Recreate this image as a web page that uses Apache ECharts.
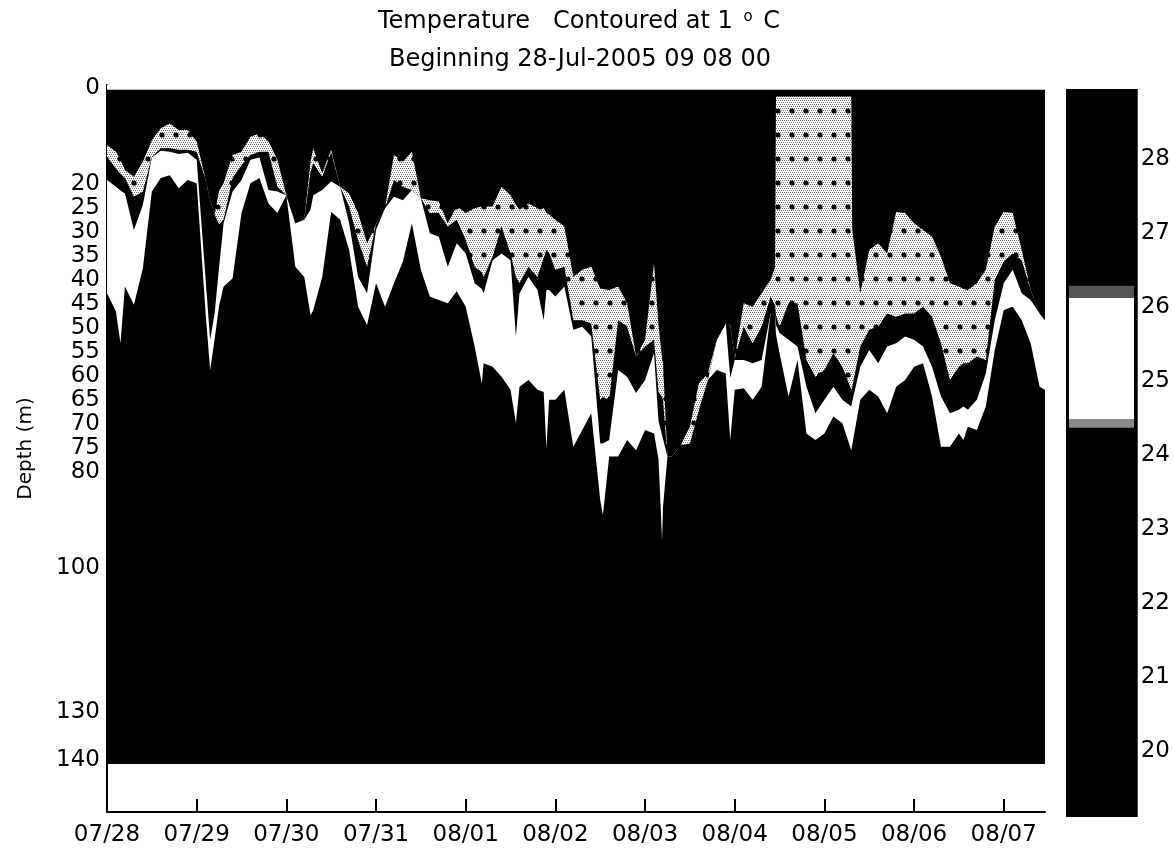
<!DOCTYPE html>
<html>
<head>
<meta charset="utf-8">
<style>
  html,body{margin:0;padding:0;background:#fff;}
  #main{width:1173px;height:848px;}
</style>
<script src="https://cdn.jsdelivr.net/npm/echarts@6/dist/echarts.min.js"></script>
</head>
<body>
<div id="main"></div>
<script>
// days since 07/28 00:00
const times = [0,0.1,0.15,0.2,0.3,0.4,0.5,0.6,0.7,0.8,0.9,1,1.1,1.15,1.2,1.25,1.3,1.4,1.5,1.6,1.7,1.8,1.9,2,2.1,2.2,2.27,2.3,2.4,2.5,2.6,2.7,2.8,2.9,3,3.1,3.2,3.3,3.4,3.5,3.6,3.7,3.8,3.9,4,4.1,4.18,4.2,4.3,4.4,4.5,4.56,4.6,4.7,4.8,4.87,4.9,4.93,5,5.1,5.2,5.3,5.4,5.5,5.53,5.6,5.7,5.8,5.9,6,6.1,6.15,6.19,6.2,6.25,6.3,6.4,6.5,6.6,6.7,6.8,6.9,6.95,7,7.1,7.2,7.3,7.4,7.45,7.46,7.5,7.6,7.7,7.8,7.9,8,8.1,8.2,8.3,8.31,8.4,8.5,8.6,8.7,8.8,8.9,9,9.1,9.2,9.3,9.4,9.5,9.55,9.6,9.7,9.8,9.9,10,10.1,10.2,10.3,10.4,10.46]
// depth (m) of the contour edges
const grayTop = [12.5,13.9,15.5,17.7,19.1,16,11.5,9,8,9.4,9.4,11.8,19.8,24,27,22,20.5,14.6,13.9,10.8,10.1,11.8,15.6,23,28.8,28,16,13.2,18.4,13.5,21.2,22.6,26.7,33,29,25.7,14.6,16,13.9,23.6,24,24.3,28.8,25.3,26.7,25.7,25.3,25.3,25.3,21.2,23,25,26,24.7,25.7,25.7,26.7,27,28.1,29.5,40,38.5,37.9,42.4,42.5,42.7,42,45.5,56.6,53.1,37.2,50,57,58,77.4,77.4,75,71.2,62.2,60.1,53.1,49.7,50,57,45.5,46.2,43.4,40.6,38,2.4,2.4,2.4,2.4,2.4,2.4,2.4,2.4,2.4,2.4,30,43.4,34.4,33,35.1,26.4,26.7,28.8,30.2,31.6,35.8,41.3,42,42.5,42.7,41.3,38.5,29.5,26.4,26.7,34.4,42.7,47.6,49]
const grayBottom = [15,17.4,18.5,19.4,23.3,22.2,15,13.2,13.2,13.5,13.5,13.9,19.8,24,27,29,28.1,19.4,16.7,14.6,13.9,13.9,21.2,23,28.8,28,18,16.3,19.1,14,21.2,25.3,32.3,37.9,29,25.7,19.8,21.2,21.9,23.6,26.7,26.7,29.5,28.1,32.3,37.9,39,40,35.8,29.5,35.1,40,41.3,37.9,40,36,34.4,35,38.5,37.9,49,49,49.7,65.6,65,65.6,49,50.4,56.6,54.5,53.1,64,65,65.6,77.4,77.4,75,74.7,67.7,61.5,53.1,49.7,50,57,50.4,53.8,50.4,44.1,46,48,50.4,45.5,45.5,57.3,60.8,59.4,55.9,58.7,63.5,63,54.5,51,50.4,47.6,48.3,47.6,47.6,46.2,48.3,53.8,61.5,58.7,58,58,56.6,57.3,40.6,36.8,35.1,36.5,42.7,47.6,49]
const whiteTop = [19.8,21.2,22,22.6,30.2,25,15.1,13.7,13.9,14.4,14.1,15.6,40.6,53.1,47.6,38,28.8,22.2,19.8,15.6,15.1,21.9,22.2,23,28.8,28.1,26,23,21.9,20.1,21.2,28.8,40,43.4,30.2,25.7,23.3,24,21.9,23.6,30.9,31.6,37.9,33,35.1,41.3,42.5,43.4,36.5,35.1,36.5,52.4,43.4,40,42.7,49,42.7,42.7,44.1,42,51,50.4,52.4,74.7,74.7,74,59.4,60.8,64.2,61.5,55.9,70,73,73.3,77.4,77.4,75,74.7,67.7,61.5,53.1,49.7,61,57.3,57.3,58,57.3,47.6,48,50,51.7,53.1,54.5,62.9,68.4,65.6,62.9,65.6,67,66,58.7,55.2,58,54.5,53.8,52.4,53.1,54.5,58.7,64.9,68.4,67.7,67,67.7,65.6,60.1,49,41.3,38.5,43.4,44.8,47.6,49]
const whiteBottom = [43.4,47.2,53.8,42,45.8,38.2,22.2,19.4,18.8,21.5,19.8,20.5,47.6,59.4,53,46,42,40.3,26.7,20.5,19.4,24.7,26.7,23,37.9,40,48,46.9,40,26.4,28.1,34.4,46.2,50,41.3,46.2,41.3,36.8,28.8,38.5,44.1,44.8,45.5,43,46.2,54.5,62.2,58,58.7,60.8,63.5,70.5,62.9,61.5,63.5,64,75.7,65.6,65.6,63.5,75.4,71.9,68.4,86.5,89.6,77.4,77.4,74,76.1,71.9,72.6,78,94.8,88,77.4,77.4,75,74.7,67.7,61.5,59.4,60.1,74,63.5,63.2,65.6,62.9,47.6,48,52,55.9,64.9,57.3,72.6,74,72.6,69.1,70.5,76.1,75,65.6,63.5,64.9,68.4,62.9,61.5,58.7,58,64.9,75.4,75.4,72.6,74,71.2,71.9,67,55.2,46.9,46.2,49,53.8,62.9,63.5]
const dataFloor = 141.5   // bottom of the contoured part
const dataCeil = 1        // top of the contoured part

const depthTicks = [0,20,25,30,35,40,45,50,55,60,65,70,75,80,100,130,140]
const dateTicks = [0,1,2,3,4,5,6,7,8,9,10]
const dateLabels = ['07/28','07/29','07/30','07/31','08/01','08/02','08/03','08/04','08/05','08/06','08/07']
const tempTicks = [20,21,22,23,24,25,26,27,28]
// colour bar edges in deg C
const barMin = 19.08
const barMax = 28.92
const barGrayLow = 24.34
const barWhiteLow = 24.46
const barWhiteHigh = 26.1
const barGrayHigh = 26.26

const FONT = 'DejaVu Sans'

// stipple used for the 26-27 band
function stipple(){
  const c = document.createElement('canvas')
  c.width = 14; c.height = 24
  const g = c.getContext('2d')
  g.fillStyle = '#fff'
  g.fillRect(0,0,14,24)
  g.fillStyle = '#777'
  for(let y=0;y<24;y+=2){
    for(let x=(y%4)/2;x<14;x+=2){
      g.fillRect(x,y,1,1)
    }
  }
  g.fillStyle = '#000'
  g.beginPath()
  g.arc(8,15,2.6,0,Math.PI*2)
  g.fill()
  return c
}
const stipplePattern = {image:stipple(),repeat:'repeat'}

// one filled layer: everything from the top of the axis down to the edge
function layer(name,depths,color){
  return {
    name:name,
    type:'line',
    data:times.map((t,i)=>[t,depths[i]]),
    showSymbol:false,
    silent:true,
    lineStyle:{width:0},
    areaStyle:{color:color,origin:'start',opacity:1}
  }
}
function barPart(name,size,color,grid){
  return {
    name:name,
    type:'bar',
    xAxisIndex:grid,
    yAxisIndex:grid,
    stack:'bar'+grid,
    barWidth:'100%',
    silent:true,
    data:[size],
    itemStyle:{color:color}
  }
}

const chart = echarts.init(document.getElementById('main'))
chart.setOption({
  animation:false,
  backgroundColor:'#fff',
  title:[
    {
      text:'{a|Temperature   Contoured at 1 }{s|o}{a| C}',
      left:574,top:5,textAlign:'center',
      textStyle:{fontWeight:'normal',rich:{
        a:{fontFamily:FONT,fontSize:24,fontWeight:'normal',color:'#000'},
        s:{fontFamily:FONT,fontSize:15,fontWeight:'normal',color:'#000',verticalAlign:'top',padding:[0,3,8,3]}
      }}
    },
    {
      text:'Beginning 28-Jul-2005 09 08 00',
      left:575,top:43,textAlign:'center',
      textStyle:{fontFamily:FONT,fontSize:24,fontWeight:'normal',color:'#000'}
    }
  ],
  grid:[
    {left:107,top:85,width:938,height:727},
    {left:1066,top:89,width:72,height:728},
    {left:1069,top:89,width:65,height:728}
  ],
  xAxis:[
    {
      type:'value',min:0,max:10.46,position:'bottom',
      splitLine:{show:false},
      axisLine:{onZero:false,lineStyle:{color:'#000',width:2}},
      axisTick:{inside:true,length:13,lineStyle:{color:'#000',width:2},customValues:dateTicks},
      axisLabel:{
        color:'#000',fontFamily:FONT,fontSize:23,margin:12,
        customValues:dateTicks,
        formatter:v=>dateLabels[v]
      }
    },
    {type:'category',gridIndex:1,data:[''],show:false},
    {type:'category',gridIndex:2,data:[''],show:false}
  ],
  yAxis:[
    {
      type:'value',inverse:true,min:0,max:151.5,
      name:'Depth (m)',nameLocation:'middle',nameGap:71,
      nameTextStyle:{color:'#000',fontFamily:FONT,fontSize:20},
      splitLine:{show:false},
      axisLine:{show:true,onZero:false,lineStyle:{color:'#000',width:2}},
      axisTick:{inside:true,length:10,lineStyle:{color:'#000'},customValues:depthTicks},
      axisLabel:{color:'#000',fontFamily:FONT,fontSize:23,margin:7,verticalAlign:'top',lineHeight:6,customValues:depthTicks}
    },
    {
      type:'value',gridIndex:1,position:'right',min:barMin,max:barMax,
      splitLine:{show:false},
      axisLine:{show:false},
      axisTick:{show:false},
      axisLabel:{color:'#000',fontFamily:FONT,fontSize:23,margin:3,verticalAlign:'top',lineHeight:4,customValues:tempTicks}
    },
    {
      type:'value',gridIndex:2,position:'right',min:barMin,max:barMax,
      splitLine:{show:false},
      axisLine:{show:false},
      axisLabel:{show:false},
      axisTick:{show:true,inside:true,length:5,lineStyle:{color:'#000',width:2},customValues:tempTicks}
    },
    {
      type:'value',gridIndex:2,position:'left',min:barMin,max:barMax,
      splitLine:{show:false},
      axisLine:{show:false},
      axisLabel:{show:false},
      axisTick:{show:true,inside:true,length:5,lineStyle:{color:'#000',width:2},customValues:tempTicks}
    }
  ],
  series:[
    layer('floor',times.map(()=>dataFloor),'#000'),
    layer('white bottom',whiteBottom,'#fff'),
    layer('white top',whiteTop,'#000'),
    layer('gray bottom',grayBottom,stipplePattern),
    layer('gray top',grayTop,'#000'),
    layer('ceil',times.map(()=>dataCeil),'#fff'),
    barPart('bar back',barMax,'#000',1),
    barPart('bar low',barGrayLow,'transparent',2),
    barPart('bar gray low',barWhiteLow-barGrayLow,'#8a8a8a',2),
    barPart('bar white',barWhiteHigh-barWhiteLow,'#fff',2),
    barPart('bar gray high',barGrayHigh-barWhiteHigh,'#555',2)
  ]
})
</script>
</body>
</html>
